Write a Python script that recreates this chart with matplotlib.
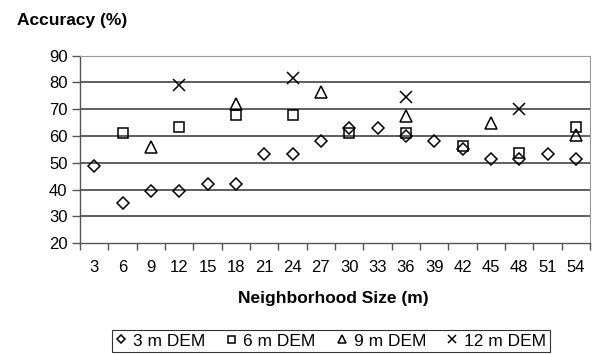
import matplotlib
matplotlib.use("Agg")
import matplotlib.pyplot as plt
import numpy as np

plt.rcParams['font.family'] = ['Liberation Sans', 'DejaVu Sans']

sizes = [3, 6, 9, 12, 15, 18, 21, 24, 27, 30, 33, 36, 39, 42, 45, 48, 51, 54]
dem3 = [49, 35, 39.5, 39.5, 42, 42, 53.5, 53.5, 58, 63, 63, 60.2, 58, 55.2, 51.4, 51.4, 53.4, 51.4]
dem6_x = [6, 12, 18, 24, 30, 36, 42, 48, 54]
dem6 = [61, 63.4, 67.8, 67.8, 61, 61, 56.3, 53.8, 63.4]
dem9_x = [9, 18, 27, 36, 45, 54]
dem9 = [55.8, 71.8, 76.5, 67.6, 65, 60.5]
dem12_x = [12, 24, 36, 48]
dem12 = [79.2, 81.8, 74.6, 70]
yticks = [20, 30, 40, 50, 60, 70, 80, 90]

fig = plt.figure(figsize=(5.97, 3.54), dpi=100)
ax = fig.add_axes([80/597, 1-243.3/354, 510/597, (243.3-55.7)/354])

pos = {s: i for i, s in enumerate(sizes)}
ms = dict(markerfacecolor='none', markeredgecolor='black', markeredgewidth=1.1, linestyle='none')
h3, = ax.plot([pos[s] for s in sizes], dem3, marker='D', markersize=6.4, label='3 m DEM', **ms)
h6, = ax.plot([pos[s] for s in dem6_x], dem6, marker='s', markersize=7.2, label='6 m DEM', **ms)
h9, = ax.plot([pos[s] for s in dem9_x], dem9, marker='^', markersize=8, label='9 m DEM', **ms)
h12, = ax.plot([pos[s] for s in dem12_x], dem12, marker='x', markersize=8, label='12 m DEM', **ms)
h12.set_color('black')

ax.set_xlim(-0.5, len(sizes)-0.5)
ax.set_ylim(20, 90)
ax.set_yticks(yticks)
for y in yticks[1:-1]:
    ax.axhline(y, color='#333333', lw=1.1, zorder=0)
ax.set_xticks(range(len(sizes)))
ax.set_xticklabels([str(s) for s in sizes])
ax.set_xticks(np.arange(-0.5, len(sizes), 1), minor=True)
ax.tick_params(axis='x', which='major', length=0, labelsize=12, pad=12)
ax.tick_params(axis='x', which='minor', length=5, direction='out', color='#555555', width=1)
ax.tick_params(axis='y', length=6, direction='out', color='#555555', width=1, labelsize=12, pad=3)

for side in ['left', 'bottom']:
    ax.spines[side].set_color('#555555')
    ax.spines[side].set_linewidth(1)
ax.spines['top'].set_color('#999999')
ax.spines['right'].set_color('#999999')
ax.spines['top'].set_linewidth(0.8)
ax.spines['right'].set_linewidth(0.8)

fig.text(17/597, 1-20/354, 'Accuracy (%)', fontsize=12.5, fontweight='bold', va='center', ha='left')
fig.text(333/597, 1-299/354, 'Neighborhood Size (m)', fontsize=12.5, fontweight='bold',
         va='center', ha='center')

leg = fig.legend(handles=[h3, h6, h9, h12], loc='lower center', ncol=4,
                 bbox_to_anchor=(331/597, 2/354), fontsize=12.5, frameon=True, fancybox=False,
                 handlelength=0.6, handletextpad=0.4, columnspacing=1.2, markerscale=0.7,
                 borderpad=0.2, borderaxespad=0.0)
leg.get_frame().set_edgecolor('black')
leg.get_frame().set_linewidth(0.8)

fig.savefig('out.png', dpi=100)
